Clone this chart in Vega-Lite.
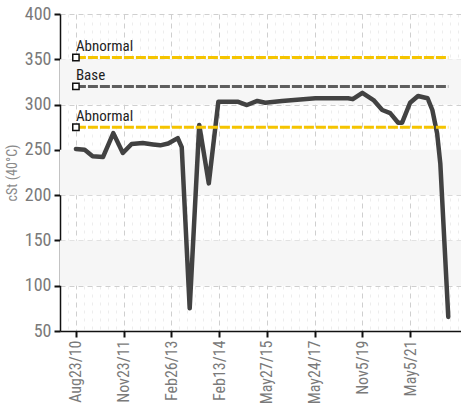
{
  "$schema": "https://vega.github.io/schema/vega-lite/v6.json",
  "autosize": {"type": "none"},
  "width": 401,
  "height": 317,
  "padding": {"left": 60, "top": 14, "right": 0, "bottom": 82},
  "background": "white",
  "config": {
    "view": {"stroke": null},
    "font": "Liberation Sans Narrow, Roboto Condensed, Roboto, sans-serif"
  },
  "datasets": {
    "bands": [
      {"v": 100, "v2": 150},
      {"v": 200, "v2": 250},
      {"v": 300, "v2": 350}
    ],
    "series": [
      {"i": 0, "v": 251},
      {"i": 1.1, "v": 250},
      {"i": 2.1, "v": 243},
      {"i": 3.4, "v": 242},
      {"i": 4.7, "v": 268.5},
      {"i": 5.9, "v": 246.5},
      {"i": 7.0, "v": 256.5},
      {"i": 8.4, "v": 257.5},
      {"i": 9.7, "v": 256},
      {"i": 10.6, "v": 255},
      {"i": 11.6, "v": 257},
      {"i": 12.8, "v": 263},
      {"i": 13.3, "v": 253},
      {"i": 14.3, "v": 75},
      {"i": 15.5, "v": 277.5},
      {"i": 16.7, "v": 213},
      {"i": 17.9, "v": 303},
      {"i": 20.4, "v": 303},
      {"i": 21.5, "v": 299.5},
      {"i": 22.8, "v": 304},
      {"i": 23.8, "v": 302},
      {"i": 25.9, "v": 304},
      {"i": 30.1, "v": 307},
      {"i": 34.2, "v": 307},
      {"i": 34.8, "v": 306},
      {"i": 36.0, "v": 313},
      {"i": 37.4, "v": 305},
      {"i": 38.5, "v": 294},
      {"i": 39.5, "v": 290.5},
      {"i": 40.5, "v": 280},
      {"i": 41.0, "v": 280},
      {"i": 42.0, "v": 302},
      {"i": 43.0, "v": 309.5},
      {"i": 44.2, "v": 307},
      {"i": 44.8, "v": 294},
      {"i": 45.4, "v": 268},
      {"i": 45.8, "v": 235},
      {"i": 46.8, "v": 65.5}
    ],
    "refs": [
      {"label": "Abnormal", "kind": "Abnormal", "i": 0, "i2": 46.8, "v": 352},
      {"label": "Base", "kind": "Base", "i": 0, "i2": 46.8, "v": 320},
      {"label": "Abnormal", "kind": "Abnormal", "i": 0, "i2": 46.8, "v": 275}
    ]
  },
  "encoding": {
    "x": {
      "field": "i", "type": "quantitative",
      "scale": {"domain": [-2, 48.4], "nice": false, "zero": false},
      "axis": {
        "title": null,
        "values": [-1,0,1,2,3,4,5,6,7,8,9,10,11,12,13,14,15,16,17,18,19,20,21,22,23,24,25,26,27,28,29,30,31,32,33,34,35,36,37,38,39,40,41,42,43,44,45,46,47,48],
        "labelExpr": "datum.value==0?'Aug23/10':datum.value==6?'Nov23/11':datum.value==12?'Feb26/13':datum.value==18?'Feb13/14':datum.value==24?'May27/15':datum.value==30?'May24/17':datum.value==36?'Nov5/19':datum.value==42?'May5/21':''",
        "labelAngle": -90,
        "labelFontSize": 16,
        "labelColor": "#7a7a7a",
        "labelPadding": 3,
        "labelOverlap": false,
        "labelBound": false,
        "labelFlush": false,
        "domainColor": "#111",
        "domainWidth": 1.5,
        "tickSize": 6,
        "tickWidth": 2,
        "tickColor": {"condition": {"test": "datum.value % 6 === 0 && datum.value >= 0 && datum.value <= 42", "value": "#111"}, "value": "transparent"},
        "grid": true,
        "gridColor": {"condition": {"test": "datum.value % 6 === 0 && datum.value >= 0 && datum.value <= 42", "value": "#cfcfcf"}, "value": "#ededed"},
        "gridDash": {"condition": {"test": "datum.value % 6 === 0 && datum.value >= 0 && datum.value <= 42", "value": [5, 4]}, "value": [3, 5]},
        "gridWidth": 1
      }
    },
    "y": {
      "field": "v", "type": "quantitative",
      "scale": {"domain": [50, 400], "nice": false, "zero": false},
      "axis": {
        "title": "cSt (40°C)",
        "titleColor": "#8a8a8a",
        "titleFontSize": 14,
        "titleFontWeight": "normal",
        "titlePadding": 5,
        "values": [50, 100, 150, 200, 250, 300, 350, 400],
        "labelFontSize": 18,
        "labelColor": "#7a7a7a",
        "labelPadding": 3,
        "domainColor": "#111",
        "domainWidth": 1.5,
        "tickColor": "#111",
        "tickSize": 6,
        "tickWidth": 2,
        "grid": true,
        "gridColor": "#cfcfcf",
        "gridDash": [5, 4]
      }
    }
  },
  "layer": [
    {
      "data": {"name": "bands"},
      "mark": {"type": "rect", "color": "#f6f6f6"},
      "encoding": {
        "x": {"value": 0},
        "x2": {"value": "width"},
        "y2": {"field": "v2"}
      }
    },
    {
      "data": {"name": "series"},
      "mark": {"type": "line", "color": "#424242", "strokeWidth": 4.5, "strokeJoin": "round", "strokeCap": "round"}
    },
    {
      "data": {"name": "refs"},
      "mark": {"type": "rule", "strokeWidth": 3, "strokeDash": [10, 2]},
      "encoding": {
        "x2": {"field": "i2"},
        "color": {"field": "kind", "type": "nominal", "scale": {"domain": ["Abnormal", "Base"], "range": ["#f5c400", "#5e5e5e"]}, "legend": null}
      }
    },
    {
      "data": {"name": "refs"},
      "mark": {"type": "point", "shape": "square", "filled": true, "fill": "white", "stroke": "#111", "strokeWidth": 1.5, "size": 40, "opacity": 1}
    },
    {
      "data": {"name": "refs"},
      "mark": {"type": "text", "align": "left", "baseline": "alphabetic", "dy": -6, "dx": 0, "fontSize": 15, "color": "#1e1e1e"},
      "encoding": {
        "text": {"field": "label"}
      }
    }
  ]
}
